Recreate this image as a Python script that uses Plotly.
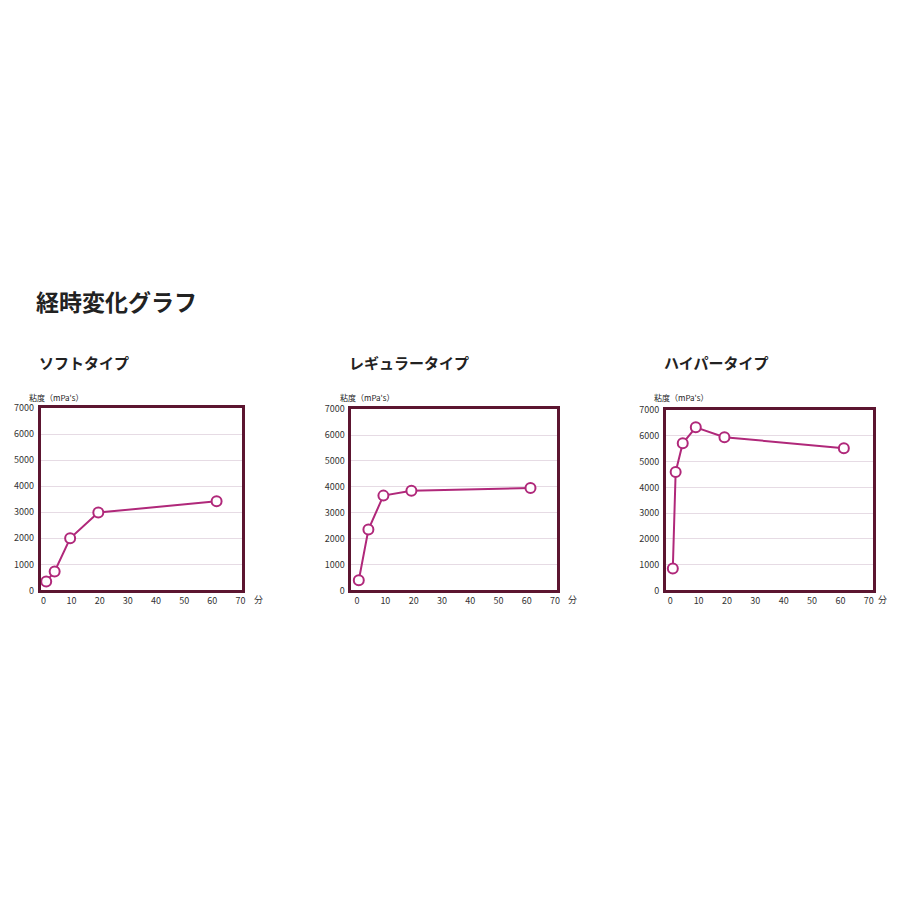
import plotly.graph_objects as go

# === データ ===
titles = ["ソフトタイプ", "レギュラータイプ", "ハイパータイプ"]

soft_x = [1, 4, 9.5, 19.5, 61.5]
soft_y = [340, 730, 2000, 2990, 3420]

regular_x = [0.6, 4, 9.3, 19.2, 61.3]
regular_y = [390, 2350, 3660, 3850, 3950]

hyper_x = [0.9, 1.9, 4.4, 9.0, 19.1, 61.2]
hyper_y = [850, 4600, 5710, 6330, 5950, 5520]

x_ticks = [0, 10, 20, 30, 40, 50, 60, 70]
y_ticks = [0, 1000, 2000, 3000, 4000, 5000, 6000, 7000]

series = [(soft_x, soft_y), (regular_x, regular_y), (hyper_x, hyper_y)]

# 参照画像のピクセル位置 (900x900)
frames = [
    dict(x0=41, x1=243, y0=407, y1=592, xr=[-0.9, 70.5]),
    dict(x0=353, x1=559, y0=408, y1=592, xr=[-2.0, 70.5]),
    dict(x0=669, x1=877, y0=409, y1=592, xr=[-1.5, 71.5]),
]

# ページの body margin (8px) を差し引く
OFF = 8
W = 884
H = 884
FRAME = "#5c1530"
LINE = "#b0287a"
GRID = "#e6dbe4"
FONT = "Noto Sans CJK JP"


def px(x):
    return (x - OFF) / W


def py(y):
    return 1 - (y - OFF) / H


fig = go.Figure()

for i, ((xs, ys), fr) in enumerate(zip(series, frames)):
    n = "" if i == 0 else str(i + 1)
    fig.add_trace(go.Scatter(
        x=xs, y=ys,
        mode="lines+markers",
        line=dict(color=LINE, width=2),
        marker=dict(size=10, color="white", line=dict(color=LINE, width=2)),
        xaxis="x" + n, yaxis="y" + n,
        showlegend=False,
        cliponaxis=False
    ))
    fig.update_layout(**{
        "xaxis" + n: dict(
            domain=[px(fr["x0"]), px(fr["x1"])],
            range=fr["xr"],
            tickvals=x_ticks,
            showgrid=False,
            zeroline=False,
            showline=True, mirror=True, linewidth=3, linecolor=FRAME,
            tickfont=dict(size=9, color="#333", family=FONT),
            anchor="y" + n,
            fixedrange=True
        ),
        "yaxis" + n: dict(
            domain=[py(fr["y1"]), py(fr["y0"])],
            range=[0, 7000],
            tickvals=y_ticks,
            showgrid=True, gridcolor=GRID, gridwidth=1,
            zeroline=False,
            showline=True, mirror=True, linewidth=3, linecolor=FRAME,
            tickfont=dict(size=9, color="#333", family=FONT),
            ticklabelstandoff=2,
            anchor="x" + n,
            fixedrange=True
        ),
    })
    # サブタイトル
    fig.add_annotation(
        x=px(fr["x0"] - 4), y=py(361), xref="paper", yref="paper",
        text="<b>" + titles[i] + "</b>", showarrow=False,
        xanchor="left", yanchor="middle",
        font=dict(size=15, color="#222", family=FONT)
    )
    # 軸ラベル
    fig.add_annotation(
        x=px(fr["x0"] - 14), y=py(396), xref="paper", yref="paper",
        text="粘度（mPa's）", showarrow=False,
        xanchor="left", yanchor="middle",
        font=dict(size=8, color="#222", family=FONT)
    )
    fig.add_annotation(
        x=px(min(fr["x1"] + 10, 880)), y=py(601), xref="paper", yref="paper",
        text="分", showarrow=False,
        xanchor="left", yanchor="middle",
        font=dict(size=9, color="#333", family=FONT)
    )

fig.add_annotation(
    x=px(34), y=py(298), xref="paper", yref="paper",
    text="<b>経時変化グラフ</b>", showarrow=False,
    xanchor="left", yanchor="middle",
    font=dict(size=23, color="#222", family=FONT)
)

fig.update_layout(
    width=W, height=H,
    margin=dict(l=0, r=0, t=0, b=0),
    paper_bgcolor="white",
    plot_bgcolor="white",
    font=dict(family=FONT)
)

fig.write_html("out.html")
